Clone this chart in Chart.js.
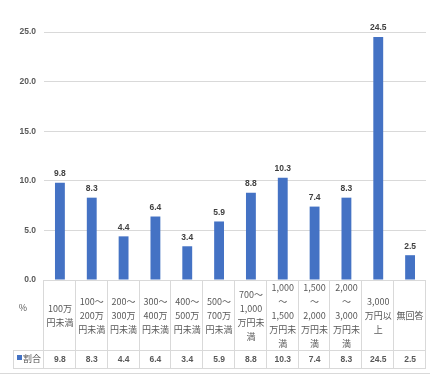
<!DOCTYPE html>
<html><head><meta charset="utf-8">
<style>html,body{margin:0;padding:0;background:#fff;}#wrap{width:430px;height:375px;position:relative;}</style>
<script src="https://cdn.jsdelivr.net/npm/chart.js@4/dist/chart.umd.min.js"></script>
</head><body><div id="wrap"><canvas id="c" width="430" height="375"></canvas></div>
<script>
const categories = [
  ["100万","円未満"],
  ["100～","200万","円未満"],
  ["200～","300万","円未満"],
  ["300～","400万","円未満"],
  ["400～","500万","円未満"],
  ["500～","700万","円未満"],
  ["700～","1,000","万円未","満"],
  ["1,000","～","1,500","万円未","満"],
  ["1,500","～","2,000","万円未","満"],
  ["2,000","～","3,000","万円未","満"],
  ["3,000","万円以","上"],
  ["無回答"]
];
const values = [9.8, 8.3, 4.4, 6.4, 3.4, 5.9, 8.8, 10.3, 7.4, 8.3, 24.5, 2.5];
const seriesName = "割合";
const unitLabel = "%";
const yTicks = [0, 5, 10, 15, 20, 25];

const BLUE = '#4472C4';
const GRID = '#d9d9d9';
const TXT = '#595959';
const LATIN = "'Liberation Sans', Arial, sans-serif";
const CJK = "'Noto Sans CJK JP', sans-serif";

const tablePlugin = {
  id: 'tableAndLabels',
  afterDatasetsDraw(chart) {
    const ctx = chart.ctx;
    const meta = chart.getDatasetMeta(0);
    ctx.save();
    ctx.fillStyle = '#404040';
    ctx.font = "bold 8.5px " + LATIN;
    ctx.textAlign = 'center';
    ctx.textBaseline = 'middle';
    meta.data.forEach((bar, i) => {
      ctx.fillText(values[i].toFixed(1), bar.x, bar.y - 9);
    });
    ctx.restore();
  },
  afterDraw(chart) {
    const ctx = chart.ctx;
    const xs = chart.scales.x;
    const ca = chart.chartArea;
    const n = categories.length;
    const w = (ca.right - ca.left) / n;
    const top = ca.bottom, mid = top + 70, bot = mid + 18;
    const line = (x1, y1, x2, y2) => { ctx.beginPath(); ctx.moveTo(x1, y1); ctx.lineTo(x2, y2); ctx.stroke(); };
    ctx.save();
    ctx.strokeStyle = GRID;
    ctx.lineWidth = 1;
    for (let i = 0; i <= n; i++) {
      const px = Math.round(i < n ? xs.getPixelForValue(i) - w / 2 : xs.getPixelForValue(n - 1) + w / 2) - 0.5;
      line(px, top, px, bot);
    }
    line(13.5, mid, 13.5, bot);
    line(13, Math.round(mid) + 0.5, Math.round(ca.right), Math.round(mid) + 0.5);
    line(13, Math.round(bot) + 0.5, Math.round(ca.right), Math.round(bot) + 0.5);
    line(0, 373.5, 430, 373.5);
    // data row values
    ctx.fillStyle = TXT;
    ctx.font = "bold 8.5px " + LATIN;
    ctx.textAlign = 'center';
    ctx.textBaseline = 'middle';
    for (let i = 0; i < n; i++) {
      ctx.fillText(values[i].toFixed(1), xs.getPixelForValue(i), mid + 9.5);
    }
    // legend key
    ctx.fillStyle = BLUE;
    ctx.fillRect(17, mid + 5, 5, 5);
    ctx.fillStyle = TXT;
    ctx.font = "9px " + CJK;
    ctx.textAlign = 'left';
    ctx.fillText(seriesName, 23, mid + 9);
    // unit
    ctx.textAlign = 'center';
    ctx.font = "9px " + CJK;
    ctx.fillText(unitLabel, 23, top + 28);
    ctx.restore();
  }
};

new Chart(document.getElementById('c'), {
  type: 'bar',
  data: {
    labels: categories,
    datasets: [{
      label: seriesName,
      data: values,
      backgroundColor: BLUE,
      borderWidth: 0,
      barPercentage: 0.31,
      categoryPercentage: 1
    }]
  },
  options: {
    responsive: false,
    devicePixelRatio: 1,
    animation: false,
    layout: { padding: { left: 0, right: 4, top: 32, bottom: 7 } },
    plugins: { legend: { display: false }, tooltip: { enabled: false } },
    scales: {
      x: {
        grid: { display: false },
        border: { display: false },
        ticks: {
          autoSkip: false, maxRotation: 0, minRotation: 0,
          padding: 0, crossAlign: 'center',
          color: TXT,
          font: { family: CJK, size: 9, lineHeight: '14px' }
        },
        afterFit(s) { s.height = 88; }
      },
      y: {
        min: 0, max: 25,
        afterBuildTicks(s) { s.ticks = yTicks.map(v => ({ value: v })); },
        grid: { color: GRID, drawTicks: false },
        border: { display: false },
        ticks: {
          padding: 8, color: TXT,
          font: { family: LATIN, size: 8.5, weight: 'bold' },
          callback: v => Number(v).toFixed(1)
        },
        afterFit(s) { s.width = 44; }
      }
    }
  },
  plugins: [tablePlugin]
});
</script></body></html>
